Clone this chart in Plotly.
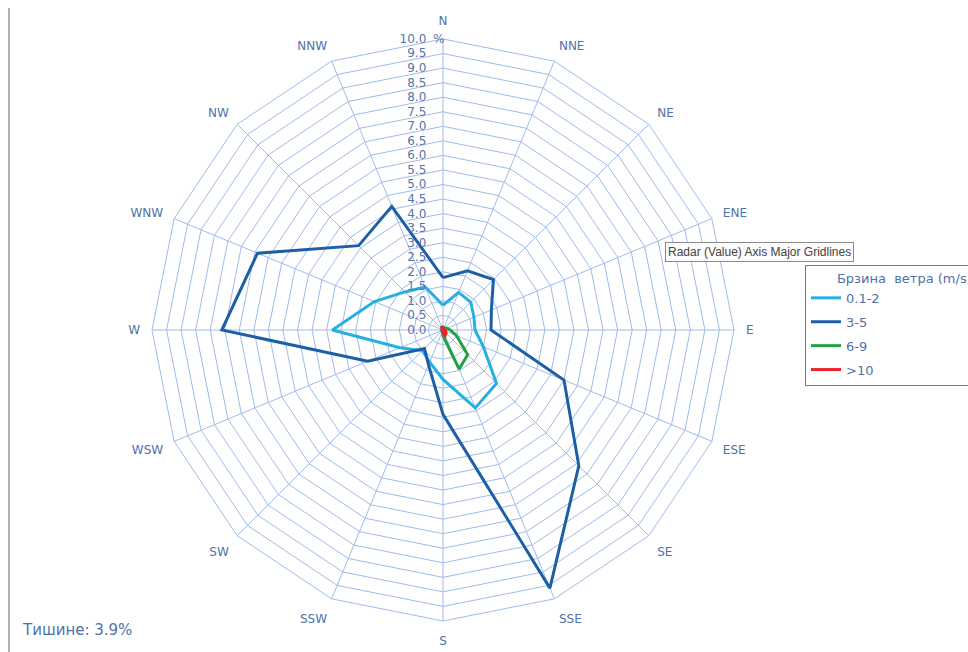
import plotly.graph_objects as go

directions = ["N", "NNE", "NE", "ENE", "E", "ESE", "SE", "SSE",
              "S", "SSW", "SW", "WSW", "W", "WNW", "NW", "NNW"]
speed_01_2 = [0.85, 1.4, 1.35, 1.15, 1.1, 1.5, 2.6, 2.9, 1.7, 1.2, 1.0, 1.6, 3.8, 2.55, 1.85, 1.6]
speed_3_5 = [1.8, 2.2, 2.45, 1.8, 1.65, 4.5, 6.6, 9.6, 2.9, 1.3, 0.9, 2.8, 7.6, 6.9, 4.1, 4.6]
speed_6_9 = [0.1, 0.1, 0.1, 0.15, 0.25, 0.5, 1.2, 1.45, 0.2, 0.05, 0.05, 0.05, 0.05, 0.05, 0.05, 0.1]
speed_10 = [0.1, 0.05, 0.05, 0.05, 0.05, 0.1, 0.15, 0.2, 0.1, 0.05, 0.02, 0.02, 0.02, 0.02, 0.05, 0.1]
series_names = ["0.1-2", "3-5", "6-9", ">10"]
series_colors = ["#27aee3", "#1d5fa6", "#22a043", "#e8232a"]
radial_ticks = [i * 0.5 for i in range(21)]
calm_text = "Тишине: 3.9%"
legend_title = "\u00a0" * 7 + "Брзина\u00a0\u00a0ветра (m/s)"

label_color = "#4f72aa"
grid_color = "#9fbbe8"
font_family = "DejaVu Sans, Verdana, sans-serif"

fig = go.Figure()
for name, vals, col in zip(series_names, [speed_01_2, speed_3_5, speed_6_9, speed_10], series_colors):
    fig.add_trace(go.Scatterpolar(
        r=vals + [vals[0]],
        theta=directions + [directions[0]],
        mode="lines",
        name=name,
        legendgroup=name,
        line=dict(color=col, width=3),
    ))

W, H = 968, 652
cx, cy, R = 443, 330, 291

fig.update_layout(
    width=W, height=H,
    margin=dict(l=0, r=0, t=0, b=0, autoexpand=False),
    paper_bgcolor="white",
    plot_bgcolor="white",
    font=dict(family=font_family, color=label_color, size=12),
    polar=dict(
        domain=dict(x=[(cx - R) / W, (cx + R) / W], y=[(H - cy - R) / H, (H - cy + R) / H]),
        bgcolor="white",
        gridshape="linear",
        radialaxis=dict(
            range=[0, 10],
            tickvals=radial_ticks,
            ticktext=[f"{v:.1f}" for v in radial_ticks],
            angle=90,
            tickangle=90,
            side="counterclockwise",
            showline=False,
            gridcolor=grid_color,
            gridwidth=1,
            ticks="outside",
            ticklen=12,
            tickcolor="rgba(0,0,0,0)",
            tickfont=dict(size=12, color="#5874a8", family=font_family),
        ),
        angularaxis=dict(
            rotation=90,
            direction="clockwise",
            categoryarray=directions,
            gridcolor=grid_color,
            linecolor=grid_color,
            linewidth=1,
            showline=True,
            ticks="outside",
            ticklen=9,
            tickcolor="rgba(0,0,0,0)",
            tickfont=dict(size=12, color=label_color, family=font_family),
        ),
    ),
    legend=dict(
        x=805 / W, y=1 - 265 / H, xanchor="left", yanchor="top",
        bgcolor="white",
        bordercolor="#7a7a7a", borderwidth=1,
        title=dict(text=legend_title, font=dict(size=13, color=label_color, family=font_family)),
        font=dict(size=13, color=label_color, family=font_family),
        tracegroupgap=4,
        itemwidth=30,
    ),
    showlegend=True,
    annotations=[
        dict(text="%", x=438 / W, y=1 - 39 / H, xref="paper", yref="paper",
             xanchor="center", yanchor="middle", showarrow=False,
             font=dict(size=12, color="#5874a8", family=font_family)),
        dict(text=calm_text, x=20 / W, y=1 - 630 / H, xref="paper", yref="paper",
             xanchor="left", yanchor="middle", showarrow=False,
             font=dict(size=15, color=label_color, family=font_family)),
        dict(text="Radar (Value) Axis Major Gridlines", x=665 / W, y=1 - 252.5 / H,
             xref="paper", yref="paper", xanchor="left", yanchor="middle", showarrow=False,
             font=dict(size=12, color="#444444", family="Liberation Sans, Arial, sans-serif"),
             bgcolor="#fbfbfb", bordercolor="#8a8a8a", borderwidth=1, borderpad=2),
    ],
    shapes=[
        dict(type="line", xref="paper", yref="paper", x0=9 / W, x1=9 / W, y0=0, y1=1 - 8 / H,
             line=dict(color="#b0b0b0", width=2)),
    ],
)

fig.write_html("out.html")
